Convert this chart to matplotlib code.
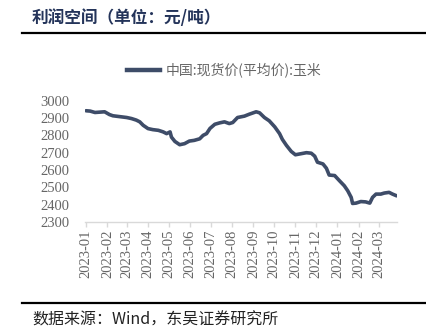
import matplotlib
matplotlib.use("Agg")
import matplotlib.pyplot as plt
import matplotlib.dates as mdates
from matplotlib.lines import Line2D
import pandas as pd

title = "利润空间（单位：元/吨）"
series_name = "中国:现货价(平均价):玉米"
source = "数据来源：Wind，东吴证券研究所"

dates = [
    "2023-01-01", "2023-01-07", "2023-01-14", "2023-01-28", "2023-02-04", "2023-02-09",
    "2023-03-01", "2023-03-08", "2023-03-15", "2023-03-20", "2023-03-25", "2023-04-01",
    "2023-04-08", "2023-04-16", "2023-04-23", "2023-04-28", "2023-05-03", "2023-05-05",
    "2023-05-10", "2023-05-17", "2023-05-24", "2023-05-31", "2023-06-07", "2023-06-15",
    "2023-06-20", "2023-06-25", "2023-06-30", "2023-07-07", "2023-07-14", "2023-07-21",
    "2023-07-28", "2023-08-02", "2023-08-09", "2023-08-19", "2023-08-26", "2023-09-05",
    "2023-09-10", "2023-09-17", "2023-09-24", "2023-10-02", "2023-10-09", "2023-10-13",
    "2023-10-19", "2023-10-26", "2023-11-01", "2023-11-09", "2023-11-17", "2023-11-24",
    "2023-11-29", "2023-12-03", "2023-12-11", "2023-12-16", "2023-12-20", "2023-12-28",
    "2024-01-04", "2024-01-11", "2024-01-16", "2024-01-21", "2024-01-23", "2024-01-28",
    "2024-02-04", "2024-02-11", "2024-02-17", "2024-02-21", "2024-02-26", "2024-03-04",
    "2024-03-09", "2024-03-16", "2024-03-21", "2024-03-27",
]
prices = [
    2942, 2940, 2932, 2936, 2920, 2913,
    2903, 2897, 2888, 2878, 2858, 2839,
    2833, 2829, 2820, 2810, 2820, 2790,
    2765, 2746, 2752, 2767, 2771, 2780,
    2800, 2810, 2840, 2864, 2872, 2878,
    2868, 2874, 2903, 2911, 2922, 2936,
    2930, 2903, 2884, 2849, 2810, 2777,
    2742, 2707, 2688, 2694, 2700, 2697,
    2680, 2645, 2635, 2610, 2571, 2568,
    2538, 2509, 2480, 2442, 2407, 2409,
    2418, 2416, 2409, 2442, 2461, 2461,
    2467, 2471, 2461, 2451,
]
yticks = [2300, 2400, 2500, 2600, 2700, 2800, 2900, 3000]

W, H = 427, 336
fig = plt.figure(figsize=(W / 100, H / 100), dpi=100)
cjk = ["Noto Sans CJK SC", "DejaVu Sans"]

ax = fig.add_axes([85 / W, 1 - 222 / H, (397 - 85) / W, (222 - 100.7) / H])
x = pd.to_datetime(dates)
line_color = "#3e4c68"
ax.plot(x, prices, color=line_color, lw=2.6, solid_capstyle="round",
        solid_joinstyle="round", label=series_name)

ax.set_ylim(2300, 3000)
ax.set_yticks(yticks)
ax.set_xlim(pd.Timestamp("2022-12-30 12:00"), pd.Timestamp("2024-03-27 12:00"))
ax.xaxis.set_major_locator(mdates.MonthLocator())
ax.xaxis.set_major_formatter(mdates.DateFormatter("%Y-%m"))

for s in ["top", "right", "left"]:
    ax.spines[s].set_visible(False)
ax.spines["bottom"].set_color("#d9d9d9")
ax.spines["bottom"].set_linewidth(1.0)
ax.tick_params(axis="x", direction="out", length=3.5, width=1.0, color="#d9d9d9",
               pad=2, labelrotation=90, labelsize=10.5, labelcolor="#666666")
ax.tick_params(axis="y", length=0, pad=11, labelsize=10.5, labelcolor="#666666")
for lab in ax.get_xticklabels() + ax.get_yticklabels():
    lab.set_fontfamily("Liberation Serif")

leg = fig.legend(handles=[Line2D([0], [0], color=line_color, lw=3.2)], labels=[series_name],
                 loc="center", bbox_to_anchor=(224 / W, 1 - 70 / H), frameon=False,
                 handlelength=2.4, handletextpad=0.4,
                 prop={"family": cjk, "size": 10})
for t in leg.get_texts():
    t.set_color("#666666")

fig.text(32 / W, 1 - 18 / H, title, family=cjk, fontsize=12, fontweight="bold",
         color="#24345a", ha="left", va="center")
fig.add_artist(Line2D([22 / W, 1], [1 - 33 / H, 1 - 33 / H], color="black", lw=1.6,
                      transform=fig.transFigure))
fig.add_artist(Line2D([22 / W, 1], [1 - 303 / H, 1 - 303 / H], color="black", lw=1.6,
                      transform=fig.transFigure))
fig.text(32 / W, 1 - 320 / H, source, family=cjk, fontsize=11.5, color="#222222",
         ha="left", va="center")

fig.savefig("out.png", dpi=100)
